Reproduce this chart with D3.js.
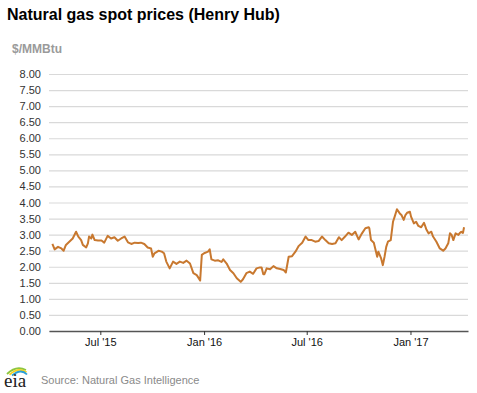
<!DOCTYPE html>
<html>
<head>
<meta charset="utf-8">
<script src="https://cdn.jsdelivr.net/npm/d3@7"></script>
<style>
  body { margin: 0; background: #fff; }
  svg { display: block; font-family: Arial, "Liberation Sans", sans-serif; }
</style>
</head>
<body>
<svg id="chart" width="477" height="393"></svg>
<script>
// Henry Hub spot price, $/MMBtu
let dates = [
  "2015-04-07","2015-04-11","2015-04-17","2015-04-23","2015-04-27","2015-05-01","2015-05-07","2015-05-13",
  "2015-05-19","2015-05-23","2015-05-28","2015-05-31","2015-06-06","2015-06-09","2015-06-11","2015-06-15",
  "2015-06-17","2015-06-21","2015-06-27","2015-07-03","2015-07-08","2015-07-14","2015-07-20","2015-07-26",
  "2015-08-01","2015-08-07","2015-08-13","2015-08-19","2015-08-25","2015-08-31","2015-09-06","2015-09-11",
  "2015-09-17","2015-09-23","2015-09-29","2015-10-02","2015-10-05","2015-10-10","2015-10-12","2015-10-18",
  "2015-10-22","2015-10-26","2015-11-01","2015-11-07","2015-11-13","2015-11-19","2015-11-25","2015-12-01",
  "2015-12-07","2015-12-13","2015-12-19","2015-12-25","2015-12-28","2016-01-01","2016-01-08","2016-01-11",
  "2016-01-14","2016-01-20","2016-01-26","2016-02-01","2016-02-04","2016-02-10","2016-02-16","2016-02-22",
  "2016-02-28","2016-03-06","2016-03-10","2016-03-16","2016-03-22","2016-03-28","2016-04-03","2016-04-09",
  "2016-04-12","2016-04-15","2016-04-17","2016-04-21","2016-04-27","2016-05-03","2016-05-09","2016-05-15",
  "2016-05-21","2016-05-25","2016-05-30","2016-06-05","2016-06-11","2016-06-17","2016-06-23","2016-06-29",
  "2016-07-04","2016-07-10","2016-07-16","2016-07-22","2016-07-28","2016-08-03","2016-08-09","2016-08-15",
  "2016-08-21","2016-08-27","2016-09-01","2016-09-07","2016-09-13","2016-09-19","2016-09-25","2016-10-01",
  "2016-10-07","2016-10-13","2016-10-19","2016-10-20","2016-10-23","2016-10-28","2016-11-03","2016-11-05",
  "2016-11-10","2016-11-13","2016-11-16","2016-11-19","2016-11-22","2016-11-27","2016-12-01","2016-12-04",
  "2016-12-08","2016-12-13","2016-12-16","2016-12-20","2016-12-23","2016-12-26","2016-12-31","2017-01-02",
  "2017-01-07","2017-01-11","2017-01-15","2017-01-20","2017-01-25","2017-01-29","2017-02-02","2017-02-07",
  "2017-02-10","2017-02-16","2017-02-22","2017-02-28","2017-03-04","2017-03-09","2017-03-12","2017-03-15",
  "2017-03-18","2017-03-22","2017-03-27","2017-03-30","2017-04-01","2017-04-04","2017-04-06"
];
let prices = [
  2.71,2.54,2.62,2.57,2.50,2.68,2.78,2.88,
  3.09,2.94,2.83,2.68,2.60,2.73,2.94,2.88,
  3.00,2.83,2.82,2.82,2.75,2.96,2.88,2.92,
  2.81,2.88,2.94,2.76,2.71,2.75,2.74,2.75,
  2.71,2.60,2.57,2.31,2.42,2.47,2.50,2.47,
  2.42,2.16,1.95,2.16,2.09,2.16,2.12,2.19,
  2.10,1.80,1.74,1.57,2.37,2.42,2.47,2.54,
  2.23,2.19,2.20,2.15,2.23,2.10,1.90,1.80,
  1.64,1.53,1.61,1.80,1.85,1.78,1.95,1.98,
  1.98,1.77,1.77,1.95,1.92,2.02,1.95,1.93,
  1.90,1.82,2.31,2.33,2.47,2.65,2.75,2.94,
  2.83,2.83,2.78,2.80,2.94,2.83,2.73,2.71,
  2.73,2.92,2.83,2.94,3.06,2.99,3.09,2.85,
  3.04,3.20,3.23,3.20,2.83,2.75,2.31,2.47,
  2.26,2.05,2.31,2.62,2.78,2.83,3.40,3.56,
  3.79,3.66,3.61,3.46,3.61,3.68,3.71,3.56,
  3.35,3.40,3.27,3.23,3.37,3.17,3.04,3.09,
  2.94,2.78,2.57,2.50,2.57,2.73,3.04,2.99,
  2.83,3.04,2.99,3.06,3.09,3.05,3.23
];
let yTicks = [0, 0.5, 1, 1.5, 2, 2.5, 3, 3.5, 4, 4.5, 5, 5.5, 6, 6.5, 7, 7.5, 8];
let xTicks = ["2015-07-01", "2016-01-01", "2016-07-01", "2017-01-01"];

let parse = d3.timeParse("%Y-%m-%d");
let series = dates.map(function(d, i) {
    return { date: parse(d), value: prices[i] };
});

let svg = d3.select("#chart");
let plotLeft = 49, plotRight = 468, plotTop = 74, plotBottom = 331;

let xScale = d3.scaleTime()
    .domain([parse("2015-04-01"), parse("2017-04-13")])
    .range([plotLeft, plotRight]);

let yScale = d3.scaleLinear()
    .domain([0, 8])
    .range([plotBottom, plotTop]);

// title
svg.append("text")
    .attr("x", 7)
    .attr("y", 20)
    .style("font-size", "16px")
    .style("font-weight", "bold")
    .style("fill", "#000")
    .text("Natural gas spot prices (Henry Hub)");

svg.append("text")
    .attr("x", 12)
    .attr("y", 53)
    .style("font-size", "12px")
    .style("font-weight", "bold")
    .style("fill", "#9a9a9a")
    .text("$/MMBtu");

// gridlines + y labels
let yAxis = svg.append("g")
    .attr("class", "y_axis")
    .attr("transform", "translate(" + plotLeft + ",0)")
    .call(d3.axisLeft(yScale)
        .tickValues(yTicks)
        .tickSize(-(plotRight - plotLeft))
        .tickPadding(8)
        .tickFormat(d3.format(".2f")));
yAxis.select(".domain").remove();
yAxis.selectAll("line")
    .attr("stroke", "#d9d9d9")
    .attr("stroke-width", 1.2);
yAxis.selectAll("text")
    .style("font-size", "11px")
    .style("fill", "#333")
    .style("font-family", "Arial, 'Liberation Sans', sans-serif");

// x axis
let xAxis = svg.append("g")
    .attr("class", "x_axis")
    .attr("transform", "translate(0," + plotBottom + ")")
    .call(d3.axisBottom(xScale)
        .tickValues(xTicks.map(parse))
        .tickSize(4)
        .tickSizeOuter(0)
        .tickPadding(3)
        .tickFormat(d3.timeFormat("%b '%y")));
xAxis.select(".domain")
    .attr("stroke", "#555")
    .attr("stroke-width", 1.5);
xAxis.selectAll("line").attr("stroke", "#333");
xAxis.selectAll("text")
    .style("font-size", "11px")
    .style("fill", "#111")
    .style("font-family", "Arial, 'Liberation Sans', sans-serif");

// price line
let line = d3.line()
    .x(function(d) { return xScale(d.date); })
    .y(function(d) { return yScale(d.value); });

svg.append("path")
    .datum(series)
    .attr("d", line)
    .attr("fill", "none")
    .attr("stroke", "#c8782f")
    .attr("stroke-width", 2)
    .attr("stroke-linejoin", "round");

// eia logo
let logo = svg.append("g").attr("transform", "translate(3,364)");
[["#8dc63f", 0], ["#f5d21e", 2.5], ["#2a9fd8", 5]].forEach(function(a) {
    logo.append("path")
        .attr("d", "M" + (4 + a[1]) + "," + (10 + a[1] * 0.3) + " Q" + (13 + a[1]) + "," + (1 + a[1] * 0.6) + " " + (23 + a[1] * 0.2) + "," + (6 + a[1] * 0.9))
        .attr("fill", "none")
        .attr("stroke", a[0])
        .attr("stroke-width", 1.8);
});
logo.append("text")
    .attr("x", 1)
    .attr("y", 23)
    .style("font-family", "'Liberation Serif', 'DejaVu Serif', serif")
    .style("font-size", "19px")
    .style("fill", "#222")
    .text("eia");

// source
svg.append("text")
    .attr("x", 41)
    .attr("y", 384)
    .style("font-size", "11px")
    .style("fill", "#8a8a8a")
    .text("Source: Natural Gas Intelligence");
</script>
</body>
</html>
